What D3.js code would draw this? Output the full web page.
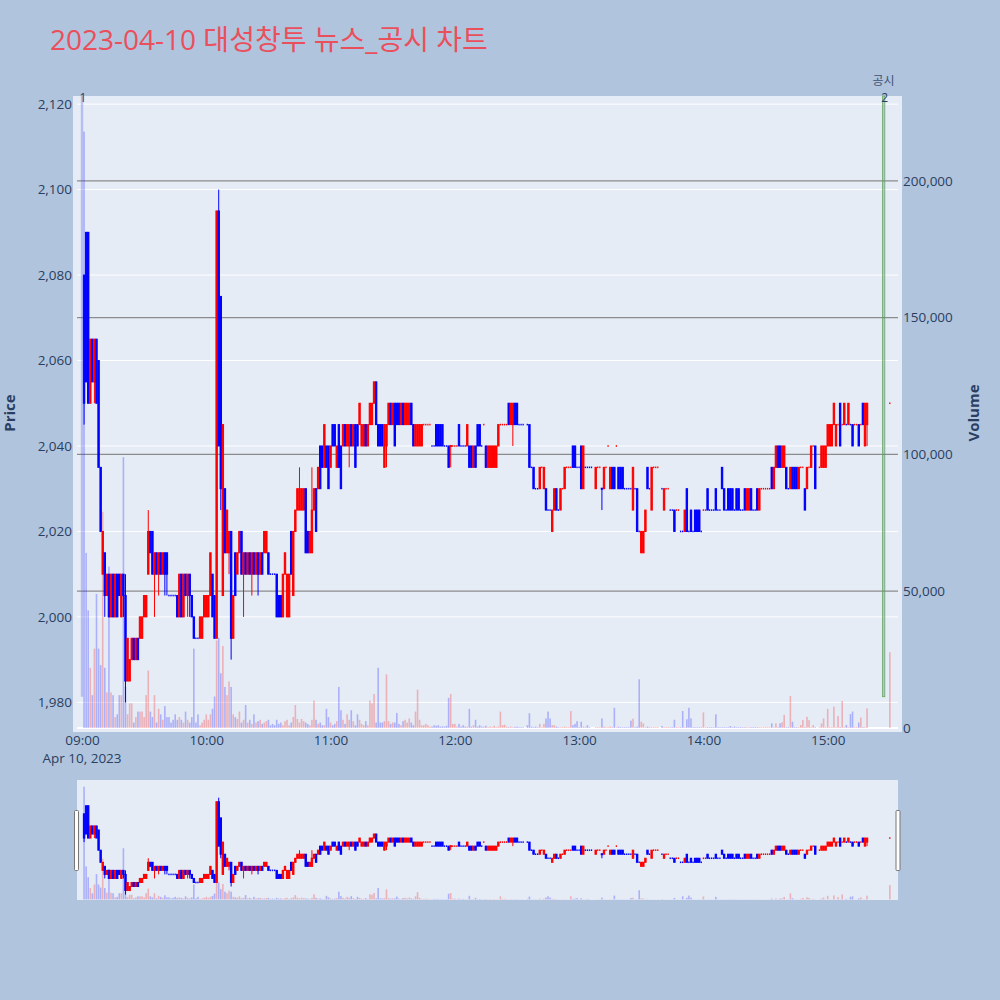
<!DOCTYPE html>
<html><head><meta charset="utf-8">
<script src="https://cdn.jsdelivr.net/npm/d3@7"></script>
<style>
body{margin:0;background:#B0C4DE;}
svg{display:block;font-family:"Open Sans","Noto Sans CJK KR",sans-serif;}
</style>
</head><body>
<svg id="chart" width="1000" height="1000"></svg>
<script>
// ---------- DATA (per-minute candles; [open, high, low, close] or single traded price, null = no trade) ----------
const h09 = [null,[2080,2080,2045,2050],[2090,2090,2055,2055],[2090,2090,2050,2050],[2050,2065,2050,2065],[2065,2065,2055,2055],[2055,2065,2050,2065],[2065,2065,2050,2050],[2060,2060,2035,2035],[2035,2035,2020,2020],
 [2010,2020,2010,2020],[2015,2015,2000,2005],[2005,2010,2005,2010],[2010,2010,2000,2000],[2000,2010,2000,2010],[2010,2010,2000,2000],[2000,2010,2000,2010],[2010,2010,2000,2000],[2010,2010,2005,2005],[2000,2010,2000,2010],
 [2010,2010,2000,2005],[2005,2010,1980,1985],[1985,1995,1985,1995],[1985,1990,1985,1990],[1990,1995,1990,1995],[1995,1995,1990,1990],[1990,1995,1990,1995],[1995,1995,1990,1990],[1995,2000,1995,2000],[1995,2000,1995,2000],
 [2000,2005,2000,2005],[2000,2005,2000,2005],[2010,2025,2010,2020],[2020,2020,2015,2015],[2020,2020,2010,2010],[2010,2015,2000,2015],[2015,2015,2010,2010],[2010,2015,2005,2015],[2015,2015,2010,2010],[2010,2015,2010,2015],
 [2015,2015,2005,2010],[2015,2015,2005,2010],2005,2005,2005,2005,[2005,2005,2000,2000],[2000,2010,2000,2010],[2010,2010,2000,2000],[2000,2010,2000,2010],
 [2010,2010,2005,2005],[2005,2010,2000,2010],[2010,2010,2000,2005],[2005,2005,2000,2000],[2000,2000,1995,1995],1995,1995,[1995,2000,1995,2000],[1995,2000,1995,2000],[2000,2005,2000,2005]];
const h10 = [[2000,2005,2000,2005],[2000,2005,2000,2005],[2005,2015,2005,2015],[2010,2010,2000,2000],[2005,2005,1995,1995],[1995,2095,1995,2095],[2095,2100,2040,2040],[2075,2075,2025,2030],[2005,2045,2005,2045],[2030,2030,2015,2015],
 [2015,2025,2015,2025],[2015,2020,2010,2020],[2020,2020,1990,1995],[1995,2005,1995,2005],[2015,2015,2005,2005],[2010,2015,2010,2015],[2015,2020,2015,2020],[2020,2020,2010,2010],[2010,2015,2000,2015],[2015,2015,2010,2010],
 [2010,2015,2010,2015],[2015,2015,2010,2010],[2010,2015,2005,2015],[2015,2015,2010,2010],[2010,2015,2010,2015],[2015,2015,2005,2010],[2010,2015,2010,2015],[2015,2015,2010,2010],[2015,2020,2015,2020],[2015,2020,2015,2020],
 [2015,2015,2010,2010],2010,2010,2010,[2010,2010,2000,2000],[2005,2005,2000,2000],[2005,2005,2000,2000],[2000,2010,2000,2010],[2010,2015,2010,2015],[2000,2010,2000,2010],
 [2000,2010,2000,2010],[2020,2020,2010,2010],[2005,2020,2005,2020],[2020,2025,2020,2025],[2025,2030,2025,2030],[2025,2035,2025,2030],[2025,2030,2025,2030],[2025,2030,2025,2030],[2030,2030,2015,2015],[2020,2020,2015,2015],
 [2015,2020,2015,2020],[2015,2035,2015,2025],[2025,2030,2025,2030],[2030,2030,2020,2020],[2030,2035,2030,2035],[2040,2040,2030,2030],[2040,2040,2035,2035],[2035,2045,2035,2045],[2040,2040,2035,2035],[2040,2040,2030,2030]];
const h11 = [[2035,2040,2035,2040],[2045,2045,2040,2040],[2045,2045,2040,2040],[2035,2040,2035,2040],[2045,2045,2035,2035],[2040,2040,2030,2030],[2040,2045,2040,2045],[2045,2045,2040,2040],[2040,2045,2040,2045],[2040,2045,2035,2045],
 [2045,2045,2040,2040],[2040,2045,2040,2045],[2045,2045,2035,2035],[2045,2045,2040,2040],[2045,2050,2045,2050],[2040,2045,2040,2045],[2040,2045,2040,2045],[2045,2045,2040,2040],[2040,2045,2040,2045],[2045,2050,2045,2050],
 [2045,2050,2045,2050],[2050,2055,2050,2055],[2055,2055,2045,2045],[2045,2045,2040,2040],[2045,2045,2040,2040],[2045,2045,2040,2040],[2035,2045,2035,2045],[2040,2045,2035,2045],[2045,2050,2045,2050],[2050,2050,2045,2045],
 [2045,2050,2045,2050],[2050,2050,2040,2040],[2050,2050,2045,2045],[2050,2050,2045,2045],[2045,2050,2045,2050],[2050,2050,2045,2045],[2045,2050,2045,2050],[2045,2050,2045,2050],[2045,2050,2045,2050],[2050,2050,2045,2045],
 [2045,2045,2040,2040],[2040,2045,2040,2045],[2040,2045,2040,2045],[2040,2045,2040,2045],[2040,2045,2040,2045],2045,2045,2045,2045,2040,
 2040,[2045,2045,2040,2040],[2045,2045,2040,2040],[2045,2045,2040,2040],[2045,2045,2040,2040],2040,2040,[2040,2040,2035,2035],[2040,2040,2035,2040],2040];
const h12 = [2040,2040,[2045,2045,2040,2040],2040,2040,2040,[2040,2045,2040,2045],[2040,2040,2035,2035],[2040,2040,2035,2035],[2035,2040,2035,2040],
 [2040,2040,2035,2035],[2045,2045,2040,2040],[2045,2045,2040,2040],2040,2045,[2040,2040,2035,2035],[2035,2040,2035,2040],[2035,2040,2035,2040],[2035,2040,2035,2040],[2035,2040,2035,2040],
 [2035,2040,2035,2040],[2040,2045,2040,2045],2045,2045,2045,2045,[2050,2050,2045,2045],[2045,2050,2045,2050],[2045,2050,2040,2050],[2050,2050,2045,2045],
 [2050,2050,2045,2045],2045,2045,2045,null,2045,[2045,2045,2035,2035],2035,[2035,2035,2030,2030],2030,
 2030,[2030,2035,2030,2035],2035,[2030,2035,2030,2035],[2030,2030,2025,2025],2025,2025,[2020,2025,2020,2025],[2025,2030,2025,2030],[2030,2030,2025,2025],
 2025,[2025,2030,2025,2030],2030,[2030,2035,2030,2035],2035,2035,2035,[2040,2040,2035,2035],[2040,2040,2035,2035],2035];
const h13 = [2035,[2040,2040,2030,2030],[2030,2040,2030,2040],2035,2035,2035,2035,null,[2030,2035,2030,2035],2035,
 2035,[2030,2030,2025,2030],[2030,2035,2030,2035],2035,2040,[2030,2035,2030,2035],[2035,2035,2030,2030],[2035,2035,2030,2030],2040,[2035,2035,2030,2030],
 [2035,2035,2030,2030],[2035,2035,2030,2030],2030,2030,2030,2030,[2025,2035,2025,2035],2030,[2030,2030,2020,2020],2020,
 [2015,2020,2015,2020],[2015,2020,2015,2020],[2020,2025,2020,2025],[2035,2035,2030,2030],2030,[2025,2035,2025,2035],2035,2035,2035,null,
 2030,[2025,2030,2025,2030],2030,2030,2025,2025,[2025,2025,2020,2020],2025,2025,2020,
 2020,[2020,2025,2020,2025],[2030,2030,2020,2020],2020,[2025,2025,2020,2020],2020,[2025,2025,2020,2020],[2025,2025,2020,2020],[2025,2025,2020,2020],2020];
const h14 = [2025,2025,[2030,2030,2025,2025],2025,2025,2025,[2030,2030,2025,2025],2025,2025,[2035,2035,2030,2030],
 [2030,2030,2025,2025],2025,[2030,2030,2025,2025],[2030,2030,2025,2025],[2030,2030,2025,2025],2025,[2030,2030,2025,2025],[2030,2030,2025,2025],2025,2025,
 [2030,2030,2025,2025],[2025,2030,2025,2030],[2025,2030,2025,2030],[2030,2030,2025,2025],2025,2025,[2030,2030,2025,2025],[2025,2030,2025,2030],2030,2030,
 2030,2030,2030,[2035,2035,2030,2030],[2030,2035,2030,2035],[2035,2040,2035,2040],[2040,2040,2035,2035],[2040,2040,2035,2035],[2035,2040,2035,2040],[2035,2040,2035,2040],
 [2035,2035,2030,2030],2030,[2030,2035,2030,2035],[2035,2035,2030,2030],[2035,2035,2030,2030],[2035,2035,2030,2030],[2030,2035,2030,2035],2035,2035,[2030,2030,2025,2025],
 [2030,2035,2030,2035],2035,[2035,2040,2035,2040],2040,[2040,2040,2030,2030],null,2035,[2035,2040,2035,2040],[2035,2040,2035,2040],[2035,2040,2035,2040]];
const h15 = [[2040,2045,2040,2045],[2040,2045,2040,2045],[2040,2045,2040,2045],[2045,2050,2045,2050],[2040,2045,2040,2045],2045,[2050,2050,2040,2040],2045,[2045,2050,2045,2050],2045,
 [2045,2050,2045,2050],2045,[2045,2045,2040,2040],2045,2045,[2045,2045,2040,2040],2045,[2050,2050,2045,2045],[2040,2050,2040,2050],[2045,2050,2040,2050],
 null,null,null,null,null,null,null,null,null,null,2050];

// volumes per minute (shares)
const v09 = [0,218000,64000,43000,22000,12000,29000,49000,29000,23000,79000,22000,13000,59000,13000,12000,4000,5000,12000,12000,
 99000,15000,5000,9000,9000,2000,4000,6000,6000,6000,4000,12000,21000,6000,4000,12000,2000,7000,5000,3000,
 8000,4000,4000,2000,3000,5000,3000,4000,3000,2000,6000,3000,2000,4000,29000,2000,5000,1000,2000,3000];
const v10 = [5000,3000,5000,7000,11500,32000,33000,20000,30000,15000,12000,17000,15000,5000,4000,3300,6000,2000,3000,8400,
 2000,3000,1500,5000,2000,2500,3000,1500,2000,2500,3000,1000,1500,1000,3000,1500,2000,1000,2500,3000,
 1000,2000,4000,8400,3300,2000,3300,2500,2000,1500,1000,3000,10000,3000,1500,2000,1000,1000,7000,4000];
const v11 = [2000,1000,1500,2500,15000,6500,3000,1500,5000,3000,6500,2500,1000,5000,3000,1500,1000,2500,1000,10000,
 9000,12400,2000,22000,2000,2000,2500,19600,2500,1500,2000,2000,5500,1500,1000,2500,3000,2000,3500,2000,
 1000,6000,14000,3000,1000,1000,1500,1000,500,500,1000,800,1000,500,600,500,800,11000,12400,1500];
const v12 = [1500,500,1500,500,1000,500,500,7000,500,1000,3000,500,1000,500,500,800,300,500,300,800,
 300,500,6000,1000,1200,500,300,500,300,400,500,300,300,300,0,1000,5400,500,300,500,
 300,1500,300,1500,3500,6000,3500,1000,1000,500,300,300,300,500,300,300,6200,1000,1500,2500];
const v13 = [300,2300,500,300,1000,300,0,0,300,300,300,3500,500,300,300,500,300,7400,300,500,
 300,300,300,300,300,2700,3400,300,500,17800,2300,1700,300,500,300,300,300,300,300,0,
 700,300,300,300,300,300,3000,300,300,300,6200,300,3200,7400,3500,300,300,300,300,300];
const v14 = [5700,300,300,300,300,300,5000,300,300,300,300,300,300,700,300,500,300,300,300,300,
 300,300,300,300,300,300,300,300,300,300,300,300,300,1700,300,1700,300,1700,2100,4800,
 300,300,11700,2300,300,300,300,1100,2900,300,4100,2900,300,1100,300,300,300,1700,3500,300];
const v15 = [7000,300,300,7800,300,4400,300,9900,300,1100,300,5100,6000,300,300,2000,3800,300,300,7200,
 0,0,0,0,0,0,0,0,0,0,27700];

const priceTicks = [1980,2000,2020,2040,2060,2080,2100,2120];
const volumeTicks = [0,50000,100000,150000,200000];
const timeTicks = ["09:00","10:00","11:00","12:00","13:00","14:00","15:00"];
const eventTimes = ["09:00","15:27"];
const eventLabels = ["1","2"];
const eventKinds = ["뉴스","공시"];
const titleText = "2023-04-10 대성창투 뉴스_공시 차트";

// ---------- BUILD ----------
const day = [2023,3,10];
const hm = s => { const [h,m]=s.split(":").map(Number); return new Date(day[0],day[1],day[2],h,m); };
const T0 = hm("09:00");
const atMin = m => new Date(T0.getTime()+m*60000);

const hourCandles = [h09,h10,h11,h12,h13,h14,h15];
const hourVols = [v09,v10,v11,v12,v13,v14,v15];
const rows = [];
let prevC = null, prevUp = true;
hourCandles.forEach((arr,hi)=>arr.forEach((e,mi)=>{
  if(e==null) return;
  const k = Array.isArray(e)?e:[e,e,e,e];
  const r = {t:new Date(day[0],day[1],day[2],9+hi,mi),o:k[0],h:k[1],l:k[2],c:k[3],v:hourVols[hi][mi]||0};
  let up;
  if(r.c>r.o) up=true; else if(r.c<r.o) up=false;
  else if(prevC!=null && r.c>prevC) up=true; else if(prevC!=null && r.c<prevC) up=false; else up=prevUp;
  r.up=up; prevUp=up; prevC=r.c;
  rows.push(r);
}));

const svg = d3.select("#chart");
svg.append("rect").attr("width",1000).attr("height",1000).attr("fill","#B0C4DE");

const P = {l:77,r:898,t:96,b:731};
const S = {t:780,b:900};
const x = d3.scaleTime().domain([atMin(-2.41),atMin(393.94)]).range([P.l,P.r]);
const yP = d3.scaleLinear().domain([1973.3,2121.9]).range([P.b,P.t]);
const yV = d3.scaleLinear().domain([-1100,231000]).range([P.b,P.t]);
const ySP = d3.scaleLinear().domain(yP.domain()).range([S.b,S.t]);
const ySV = d3.scaleLinear().domain(yV.domain()).range([S.b,S.t]);

const RED="#ff0000", BLUE="#0000ff", TXT="#2a3f5f";

// title
svg.append("text").attr("x",50).attr("y",50).attr("font-size",28).attr("fill","#ea4f5c").text(titleText);

// plot background
svg.append("rect").attr("x",73).attr("y",P.t).attr("width",829).attr("height",P.b-P.t+1).attr("fill","#E5ECF6");

const defs = svg.append("defs");
defs.append("clipPath").attr("id","clipMain").append("rect").attr("x",P.l).attr("y",P.t).attr("width",P.r-P.l).attr("height",P.b-P.t);
defs.append("clipPath").attr("id","clipSl").append("rect").attr("x",P.l).attr("y",S.t).attr("width",P.r-P.l).attr("height",S.b-S.t);

// price gridlines (white)
svg.append("g").selectAll("line").data(priceTicks).join("line")
  .attr("x1",P.l).attr("x2",P.r).attr("y1",d=>yP(d)).attr("y2",d=>yP(d))
  .attr("stroke","#fff").attr("stroke-width",1);
// volume gridlines
svg.append("g").selectAll("line").data(volumeTicks).join("line")
  .attr("x1",P.l).attr("x2",P.r).attr("y1",d=>yV(d)).attr("y2",d=>yV(d))
  .attr("stroke",d=>d===0?"#fff":"#8c8c8c").attr("stroke-width",d=>d===0?2:1.2);

// axes
const axL = d3.axisLeft(yP).tickValues(priceTicks).tickFormat(d3.format(",")).tickSize(0).tickPadding(0);
const gL = svg.append("g").attr("transform","translate(72,0)").call(axL);
const axR = d3.axisRight(yV).tickValues(volumeTicks).tickFormat(d3.format(",")).tickSize(0).tickPadding(0);
const gR = svg.append("g").attr("transform","translate(903,0)").call(axR);
const axB = d3.axisBottom(x).tickValues(timeTicks.map(hm)).tickFormat(d3.timeFormat("%H:%M")).tickSize(0).tickPadding(0);
const gB = svg.append("g").attr("transform","translate(0,735)").call(axB);
[gL,gR,gB].forEach(g=>{g.select(".domain").remove();
  g.selectAll("text").attr("fill",TXT).attr("font-size",13.5).attr("font-family","'Open Sans',sans-serif");});
svg.append("text").attr("x",x(hm(timeTicks[0]))).attr("y",763).attr("text-anchor","middle")
  .attr("fill",TXT).attr("font-size",13.5).text(d3.timeFormat("%b %-d, %Y")(hm(timeTicks[0])));

// axis titles
svg.append("text").attr("transform","translate(15,413) rotate(-90)").attr("text-anchor","middle")
  .attr("font-size",15).attr("font-weight","bold").attr("fill",TXT).text("Price");
svg.append("text").attr("transform","translate(979,413) rotate(-90)").attr("text-anchor","middle")
  .attr("font-size",15).attr("font-weight","bold").attr("fill",TXT).text("Volume");

function drawSeries(g, yPr, yVo){
  g.append("g").selectAll("rect").data(rows.filter(d=>d.v>0)).join("rect")
    .attr("x",d=>x(d.t)-0.8).attr("width",1.6)
    .attr("y",d=>yVo(d.v)).attr("height",d=>yVo(0)-yVo(d.v))
    .attr("fill",d=>d.up?RED:BLUE).attr("opacity",0.25);
  const c = g.append("g").selectAll("g").data(rows).join("g");
  const flat = d=>d.o===d.c && d.h===d.l;
  c.filter(d=>d.h!==d.l).append("line").attr("x1",d=>x(d.t)).attr("x2",d=>x(d.t))
    .attr("y1",d=>yPr(d.h)).attr("y2",d=>yPr(d.l))
    .attr("stroke",d=>d.up?RED:BLUE).attr("stroke-width",1);
  c.filter(d=>!flat(d)).append("rect").attr("x",d=>x(d.t)-0.7).attr("width",1.4)
    .attr("y",d=>yPr(Math.max(d.o,d.c))-(d.o===d.c?0.5:0))
    .attr("height",d=>Math.max(1,Math.abs(yPr(d.o)-yPr(d.c))))
    .attr("fill",d=>d.up?RED:BLUE).attr("stroke",d=>d.up?RED:BLUE).attr("stroke-width",1);
  c.filter(flat).append("rect").attr("x",d=>x(d.t)-0.7).attr("width",1.3)
    .attr("y",d=>yPr(d.c)-0.8).attr("height",1.6)
    .attr("fill",d=>d.up?RED:BLUE);
}

// event lines (news / disclosure)
const ev = eventTimes.map((t,i)=>({t:hm(t),label:eventLabels[i],kind:eventKinds[i]}));
const main = svg.append("g").attr("clip-path","url(#clipMain)");
drawSeries(main, yP, yV);
const evBottom = P.b - 0.054*(P.b-P.t);
svg.append("g").selectAll("rect").data(ev).join("rect")
  .attr("x",d=>x(d.t)-1.2).attr("width",2.4).attr("y",P.t).attr("height",evBottom-P.t)
  .attr("fill","rgba(70,80,235,0.3)")
  .attr("stroke",d=>d.kind==="공시"?"#6aa85c":"none").attr("stroke-width",0.8);
svg.append("g").selectAll("text").data(ev).join("text")
  .attr("x",d=>x(d.t)+1).attr("y",102).attr("text-anchor","middle")
  .attr("font-size",12).attr("fill",TXT).text(d=>d.label);
svg.append("g").selectAll("text").data(ev.filter(d=>d.kind==="공시")).join("text")
  .attr("x",d=>x(d.t)).attr("y",85).attr("text-anchor","middle")
  .attr("font-size",12).attr("fill",TXT).attr("opacity",0.85).text(d=>d.kind);

// range slider
svg.append("rect").attr("x",P.l).attr("y",S.t).attr("width",P.r-P.l).attr("height",S.b-S.t).attr("fill","#E5ECF6");
const sl = svg.append("g").attr("clip-path","url(#clipSl)");
drawSeries(sl, ySP, ySV);
[P.l-2.5, P.r-2].forEach(hx=>{
  svg.append("rect").attr("x",hx).attr("y",810.5).attr("width",4).attr("height",60)
    .attr("rx",1).attr("fill","#fff").attr("stroke","#777").attr("stroke-width",1);
});
</script>
</body></html>
